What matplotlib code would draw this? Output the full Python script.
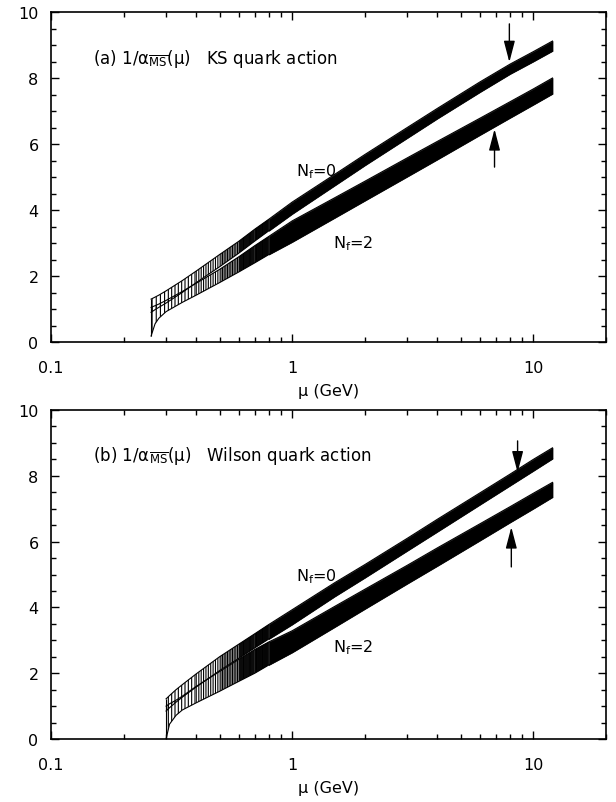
import numpy as np
import matplotlib
matplotlib.use('Agg')
import matplotlib.pyplot as plt
from matplotlib.ticker import LogLocator, MultipleLocator, NullFormatter

plt.rcParams['font.family'] = ['DejaVu Sans']
plt.rcParams['mathtext.fontset'] = 'dejavusans'
plt.rcParams['mathtext.default'] = 'regular'
plt.rcParams['hatch.linewidth'] = 0.8

# ---------------- data: panel (a) KS quark action ----------------
mu_a = [0.26, 0.27, 0.28, 0.30, 0.35, 0.40, 0.50, 0.60, 0.70, 0.80, 1.0,
        1.5, 2, 3, 4, 6, 8, 10, 12]
a_nf0_hi = [1.30, 1.36, 1.42, 1.55, 1.86, 2.15, 2.65, 3.05, 3.42, 3.72, 4.24,
            5.08, 5.68, 6.50, 7.08, 7.88, 8.42, 8.80, 9.12]
a_nf0_lo = [0.90, 0.98, 1.05, 1.18, 1.50, 1.80, 2.28, 2.69, 3.06, 3.37, 3.88,
            4.74, 5.35, 6.18, 6.77, 7.57, 8.12, 8.50, 8.82]
a_nf2_hi = [1.05, 1.10, 1.15, 1.26, 1.53, 1.78, 2.20, 2.58, 2.92, 3.20, 3.67,
            4.37, 4.87, 5.58, 6.08, 6.78, 7.28, 7.67, 8.00]
a_nf2_lo = [0.18, 0.55, 0.72, 0.92, 1.20, 1.42, 1.80, 2.12, 2.40, 2.65, 3.03,
            3.76, 4.28, 5.01, 5.53, 6.27, 6.79, 7.19, 7.52]

# ---------------- data: panel (b) Wilson quark action ----------------
mu_b = [0.30, 0.31, 0.33, 0.35, 0.40, 0.50, 0.60, 0.70, 0.80, 1.0,
        1.5, 2, 3, 4, 6, 8, 10, 12]
b_nf0_hi = [1.22, 1.32, 1.50, 1.65, 1.98, 2.50, 2.88, 3.20, 3.48, 3.93,
            4.75, 5.30, 6.10, 6.68, 7.48, 8.05, 8.50, 8.85]
b_nf0_lo = [0.85, 0.95, 1.12, 1.27, 1.58, 2.08, 2.45, 2.77, 3.04, 3.48,
            4.33, 4.90, 5.72, 6.30, 7.12, 7.70, 8.15, 8.52]
b_nf2_hi = [1.00, 1.07, 1.18, 1.30, 1.60, 2.05, 2.42, 2.72, 2.95, 3.29,
            4.03, 4.55, 5.28, 5.81, 6.54, 7.06, 7.47, 7.80]
b_nf2_lo = [0.00, 0.45, 0.72, 0.88, 1.10, 1.45, 1.75, 2.00, 2.25, 2.63,
            3.40, 3.95, 4.72, 5.26, 6.03, 6.58, 7.00, 7.35]

x_ticks = [0.1, 1, 10]
x_ticklabels = ['0.1', '1', '10']
y_ticks = [0, 2, 4, 6, 8, 10]

titles = [r'(a) $1/\alpha_{\overline{MS}}(\mu)$   KS quark action',
          r'(b) $1/\alpha_{\overline{MS}}(\mu)$   Wilson quark action']
nf_labels = [r'$N_f$=0', r'$N_f$=2']

# label / arrow positions (data coords)
a_nf_pos = [(1.04, 5.2), (1.48, 3.0)]
b_nf_pos = [(1.04, 4.95), (1.48, 2.8)]
a_arrows = [((7.95, 9.64), (7.95, 8.48)), ((6.9, 5.3), (6.9, 6.45))]
b_arrows = [((8.6, 9.06), (8.6, 8.1)), ((8.1, 5.23), (8.1, 6.44))]

fig = plt.figure(figsize=(6.16, 8.03), dpi=100)
axA = fig.add_axes([51/616, 1-343/803, 555/616, 330/803])
axB = fig.add_axes([51/616, 1-740/803, 555/616, 329/803])


def draw_band(ax, mu, lo, hi):
    mu = np.asarray(mu, float)
    lo = np.asarray(lo, float)
    hi = np.asarray(hi, float)
    segs = [(mu[0], 0.30, '||||', 'none'), (0.30, 0.40, '|||||', 'none'),
            (0.40, 0.50, '|||||||', 'none'), (0.50, 0.60, '||||||||||', '0.85'),
            (0.60, 0.70, '||||||||||||||', '0.6'), (0.70, 0.80, '||||||||||||||', '0.3')]
    for a, b, h, fc in segs:
        m = (mu >= a - 1e-9) & (mu <= b + 1e-9)
        if m.sum() < 2:
            continue
        ax.fill_between(mu, lo, hi, where=m, facecolor=fc, edgecolor='k',
                        hatch=h, linewidth=0)
    m = mu >= 0.8 - 1e-9
    ax.fill_between(mu, lo, hi, where=m, facecolor='k', edgecolor='k', linewidth=0.5)
    ax.plot(mu, lo, color='k', lw=0.8)
    ax.plot(mu, hi, color='k', lw=0.8)
    ax.vlines(mu[0], lo[0], hi[0], color='k', lw=0.8)
    ax.vlines(mu[-1], lo[-1], hi[-1], color='k', lw=0.8)


def style(ax):
    ax.set_xscale('log')
    ax.set_xlim(0.1, 20)
    ax.set_ylim(0, 10)
    ax.set_xticks(x_ticks, labels=x_ticklabels)
    ax.xaxis.set_minor_locator(LogLocator(base=10, subs=range(2, 10)))
    ax.xaxis.set_minor_formatter(NullFormatter())
    ax.set_yticks(y_ticks)
    ax.yaxis.set_minor_locator(MultipleLocator(0.5))
    ax.tick_params(which='both', direction='in', top=True, right=True,
                   width=1.0, labelsize=11.5)
    ax.tick_params(which='major', length=5.5)
    ax.tick_params(which='minor', length=3.5)
    ax.tick_params(axis='x', pad=13)
    ax.tick_params(axis='y', pad=9)
    for s in ax.spines.values():
        s.set_linewidth(1.2)
    ax.set_xlabel('μ (GeV)', fontsize=11.5, labelpad=6)


for ax, mu, bands, title, nfpos, arrows in [
        (axA, mu_a, [(a_nf0_lo, a_nf0_hi), (a_nf2_lo, a_nf2_hi)], titles[0], a_nf_pos, a_arrows),
        (axB, mu_b, [(b_nf0_lo, b_nf0_hi), (b_nf2_lo, b_nf2_hi)], titles[1], b_nf_pos, b_arrows)]:
    for lo, hi in bands:
        draw_band(ax, mu, lo, hi)
    style(ax)
    ax.text(0.076, 0.862, title, transform=ax.transAxes, fontsize=12,
            ha='left', va='center')
    for lab, (xx, yy) in zip(nf_labels, nfpos):
        ax.text(xx, yy, lab, fontsize=11.5, ha='left', va='center')
    for (x0, y0), (x1, y1) in arrows:
        ax.annotate('', xy=(x1, y1), xytext=(x0, y0),
                    arrowprops=dict(arrowstyle='-|>,head_width=0.17,head_length=0.65',
                                    color='k', lw=1.0, mutation_scale=20,
                                    shrinkA=0, shrinkB=0))

fig.savefig('out.png', dpi=100)
